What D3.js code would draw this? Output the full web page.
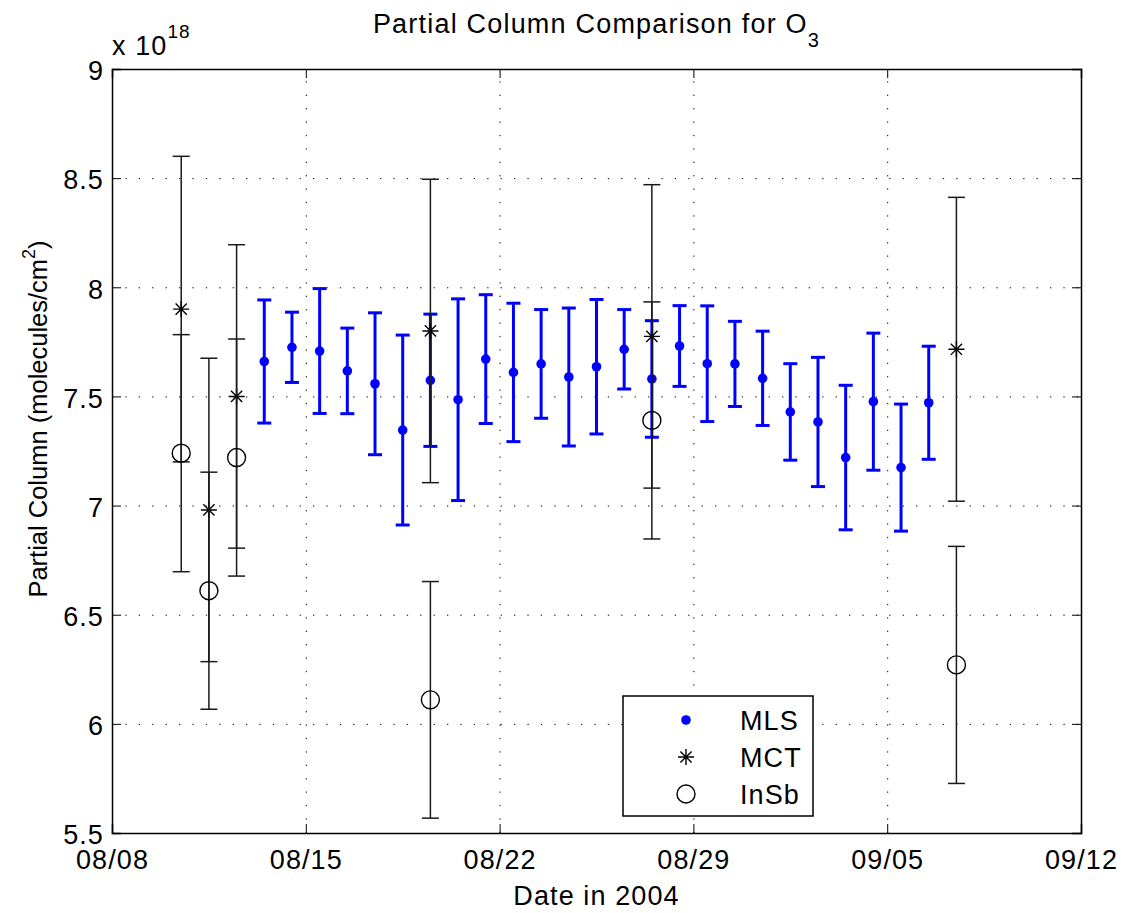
<!DOCTYPE html>
<html>
<head>
<meta charset="utf-8">
<script src="https://cdn.jsdelivr.net/npm/d3@7"></script>
<style>
  body { margin: 0; background: #fff; }
  svg text { font-family: "Liberation Sans", Arial, Helvetica, sans-serif; fill: #000; }
</style>
</head>
<body>
<div id="chart"></div>
<script>
// values are in units of 1e18 molecules/cm^2
var mlsDates = ["2004-08-13 12:00", "2004-08-14 12:00", "2004-08-15 12:00", "2004-08-16 12:00", "2004-08-17 12:00",
                "2004-08-18 12:00", "2004-08-19 12:00", "2004-08-20 12:00", "2004-08-21 12:00", "2004-08-22 12:00",
                "2004-08-23 12:00", "2004-08-24 12:00", "2004-08-25 12:00", "2004-08-26 12:00", "2004-08-27 12:00",
                "2004-08-28 12:00", "2004-08-29 12:00", "2004-08-30 12:00", "2004-08-31 12:00", "2004-09-01 12:00",
                "2004-09-02 12:00", "2004-09-03 12:00", "2004-09-04 12:00", "2004-09-05 12:00", "2004-09-06 12:00"];
var mlsValues = [7.66, 7.725, 7.708, 7.617, 7.558, 7.346, 7.574, 7.485, 7.671, 7.61,
                 7.649, 7.589, 7.636, 7.716, 7.58, 7.731, 7.65, 7.649, 7.583, 7.429,
                 7.383, 7.22, 7.476, 7.174, 7.471];
var mlsErrors = [0.282, 0.161, 0.286, 0.196, 0.325, 0.435, 0.303, 0.462, 0.295, 0.317,
                 0.249, 0.316, 0.308, 0.182, 0.267, 0.185, 0.265, 0.195, 0.216, 0.221,
                 0.296, 0.331, 0.314, 0.291, 0.259];

var ftsDates = ["2004-08-10 12:00", "2004-08-11 12:00", "2004-08-12 12:00", "2004-08-19 12:00", "2004-08-27 12:00", "2004-09-07 12:00"];
var mctValues = [7.90, 6.98, 7.50, 7.80, 7.775, 7.716];
var mctErrors = [0.70, 0.695, 0.695, 0.695, 0.695, 0.696];
var insbValues = [7.24, 6.61, 7.22, 6.11, 7.39, 6.27];
var insbErrors = [0.543, 0.543, 0.543, 0.542, 0.543, 0.543];

var xTicks = ["2004-08-08 00:00", "2004-08-15 00:00", "2004-08-22 00:00", "2004-08-29 00:00", "2004-09-05 00:00", "2004-09-12 00:00"];
var yTicks = [5.5, 6, 6.5, 7, 7.5, 8, 8.5, 9];

var parse = d3.timeParse("%Y-%m-%d %H:%M");

var width = 1129, height = 913;
var margin = {left: 112, right: 48, top: 69, bottom: 80};
var plotW = width - margin.left - margin.right;
var plotH = height - margin.top - margin.bottom;
var fontSize = 27;
var spacing = 1.1;

var x = d3.scaleTime()
          .domain([parse(xTicks[0]), parse(xTicks[xTicks.length - 1])])
          .range([0, plotW]);
var y = d3.scaleLinear()
          .domain([5.5, 9])
          .range([plotH, 0]);

var svg = d3.select("#chart").append("svg")
            .attr("width", width)
            .attr("height", height);

var g = svg.append("g")
           .attr("transform", "translate(" + margin.left + "," + margin.top + ")");

// dotted grid
g.append("g")
  .attr("class", "grid")
  .attr("transform", "translate(0," + plotH + ")")
  .call(d3.axisBottom(x).tickValues(xTicks.map(parse)).tickSize(-plotH).tickFormat(""))
  .call(function(s){ s.select(".domain").remove(); });
g.append("g")
  .attr("class", "grid")
  .call(d3.axisLeft(y).tickValues(yTicks).tickSize(-plotW).tickFormat(""))
  .call(function(s){ s.select(".domain").remove(); });
g.selectAll(".grid line")
  .attr("stroke", "#000")
  .attr("stroke-width", 1)
  .attr("stroke-dasharray", "1.3,12.1");

// error bar helper
function errorBars(cls, dates, vals, errs, color, lw, capHalf) {
  var sel = g.append("g").attr("class", cls)
             .selectAll("g")
             .data(vals)
             .enter().append("g")
             .attr("transform", function(d, i){ return "translate(" + x(parse(dates[i])) + ",0)"; });
  sel.append("line")
     .attr("y1", function(d, i){ return y(d - errs[i]); })
     .attr("y2", function(d, i){ return y(d + errs[i]); });
  sel.append("line")
     .attr("x1", -capHalf).attr("x2", capHalf)
     .attr("y1", function(d, i){ return y(d - errs[i]); })
     .attr("y2", function(d, i){ return y(d - errs[i]); });
  sel.append("line")
     .attr("x1", -capHalf).attr("x2", capHalf)
     .attr("y1", function(d, i){ return y(d + errs[i]); })
     .attr("y2", function(d, i){ return y(d + errs[i]); });
  sel.selectAll("line")
     .attr("stroke", color)
     .attr("stroke-width", lw);
  return sel;
}

function star(s, r) {
  s.append("path")
   .attr("d", "M" + (-r) + ",0H" + r + "M0," + (-r) + "V" + r +
              "M" + (-r * 0.7) + "," + (-r * 0.7) + "L" + (r * 0.7) + "," + (r * 0.7) +
              "M" + (-r * 0.7) + "," + (r * 0.7) + "L" + (r * 0.7) + "," + (-r * 0.7))
   .attr("fill", "none")
   .attr("stroke", "#000")
   .attr("stroke-width", 1.4);
}

// MLS
var mls = errorBars("mls", mlsDates, mlsValues, mlsErrors, "#0000ff", 3, 7);
mls.append("circle")
   .attr("cy", function(d){ return y(d); })
   .attr("r", 4.8)
   .attr("fill", "#0000ff");

// MCT
var mct = errorBars("mct", ftsDates, mctValues, mctErrors, "#1a1a1a", 1.5, 8.5);
mct.each(function(d){
  var m = d3.select(this).append("g").attr("transform", "translate(0," + y(d) + ")");
  star(m, 8);
});

// InSb
var insb = errorBars("insb", ftsDates, insbValues, insbErrors, "#1a1a1a", 1.5, 8.5);
insb.append("circle")
    .attr("cy", function(d){ return y(d); })
    .attr("r", 9)
    .attr("fill", "none")
    .attr("stroke", "#000")
    .attr("stroke-width", 1.4);

// axes, ticks point inward on all four sides
var xAxis = d3.axisBottom(x)
              .tickValues(xTicks.map(parse))
              .tickSize(-9)
              .tickPadding(17)
              .tickFormat(d3.timeFormat("%m/%d"));
var yAxis = d3.axisLeft(y)
              .tickValues(yTicks)
              .tickSize(-9)
              .tickPadding(8)
              .tickFormat(d3.format("~g"));

g.append("g").attr("class", "axis")
  .attr("transform", "translate(0," + plotH + ")")
  .call(xAxis);
g.append("g").attr("class", "axis")
  .call(yAxis);
g.append("g").attr("class", "axis")
  .call(d3.axisTop(x).tickValues(xTicks.map(parse)).tickSize(-9).tickFormat(""));
g.append("g").attr("class", "axis")
  .attr("transform", "translate(" + plotW + ",0)")
  .call(d3.axisRight(y).tickValues(yTicks).tickSize(-9).tickFormat(""));

g.selectAll(".axis .domain").attr("stroke", "#000").attr("stroke-width", 1.5);
g.selectAll(".axis line").attr("stroke", "#000").attr("stroke-width", 1);
g.selectAll(".axis text")
  .attr("font-size", fontSize)
  .attr("letter-spacing", spacing)
  .attr("font-family", null)
  .attr("fill", "#000");
g.selectAll(".axis .tick text").filter(function(){ return this.getAttribute("dy") === "0.32em"; })
  .attr("dy", "0.4em");

// exponent
var expo = svg.append("text")
  .attr("x", margin.left)
  .attr("y", 55)
  .attr("font-size", fontSize)
  .attr("letter-spacing", spacing);
expo.append("tspan").text("x 10");
expo.append("tspan").attr("font-size", 19).attr("dy", -17).text("18");

// title
var title = svg.append("text")
  .attr("x", margin.left + plotW / 2)
  .attr("y", 33)
  .attr("text-anchor", "middle")
  .attr("font-size", 27)
  .attr("letter-spacing", 1.2);
title.append("tspan").text("Partial Column Comparison for O");
title.append("tspan").attr("font-size", 20).attr("dy", 14).text("3");

// axis labels
svg.append("text")
  .attr("x", margin.left + plotW / 2)
  .attr("y", 905)
  .attr("text-anchor", "middle")
  .attr("font-size", fontSize)
  .attr("letter-spacing", spacing)
  .text("Date in 2004");

var yl = svg.append("text")
  .attr("transform", "translate(47,419) rotate(-90)")
  .attr("text-anchor", "middle")
  .attr("font-size", 25.5);
yl.append("tspan").text("Partial Column (molecules/cm");
yl.append("tspan").attr("font-size", 18).attr("dy", -12).text("2");
yl.append("tspan").attr("dy", 12).text(")");

// legend
var legendNames = ["MLS", "MCT", "InSb"];
var leg = svg.append("g").attr("transform", "translate(623,696)");
leg.append("rect")
   .attr("width", 190).attr("height", 120)
   .attr("fill", "#fff")
   .attr("stroke", "#000")
   .attr("stroke-width", 1.5);
var rows = leg.selectAll(".row")
   .data(legendNames)
   .enter().append("g")
   .attr("class", "row")
   .attr("transform", function(d, i){ return "translate(0," + (24 + i * 37) + ")"; });
rows.append("text")
    .attr("x", 117)
    .attr("dy", "0.36em")
    .attr("font-size", fontSize)
    .attr("letter-spacing", spacing)
    .text(function(d){ return d; });
rows.filter(function(d){ return d === "MLS"; })
    .append("circle").attr("cx", 63).attr("r", 4.8).attr("fill", "#0000ff");
rows.filter(function(d){ return d === "MCT"; })
    .each(function(){ star(d3.select(this).append("g").attr("transform", "translate(63,0)"), 8); });
rows.filter(function(d){ return d === "InSb"; })
    .append("circle").attr("cx", 63).attr("r", 9)
    .attr("fill", "none").attr("stroke", "#000").attr("stroke-width", 1.4);
</script>
</body>
</html>
